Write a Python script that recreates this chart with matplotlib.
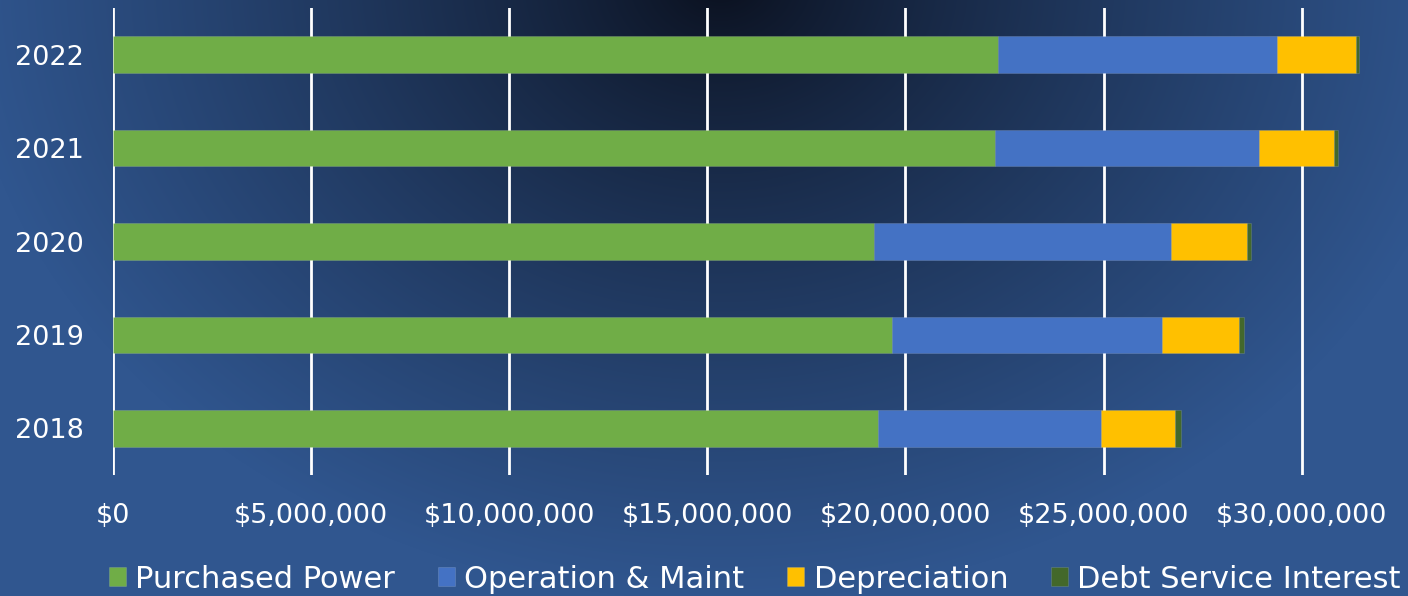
import numpy as np
import matplotlib.pyplot as plt
from matplotlib.colors import to_rgb
from matplotlib.ticker import FuncFormatter

years = ["2018", "2019", "2020", "2021", "2022"]
purchased_power = [19.31e6, 19.66e6, 19.20e6, 22.26e6, 22.33e6]
operation_maint = [5.62e6, 6.81e6, 7.51e6, 6.66e6, 7.06e6]
depreciation = [1.87e6, 1.94e6, 1.90e6, 1.90e6, 1.98e6]
debt_interest = [0.16e6, 0.14e6, 0.12e6, 0.09e6, 0.09e6]

series = [
    ("Purchased Power", purchased_power, "#70AD47"),
    ("Operation & Maint", operation_maint, "#4472C4"),
    ("Depreciation", depreciation, "#FFC000"),
    ("Debt Service Interest", debt_interest, "#43682B"),
]

plt.rcParams['font.family'] = ['DejaVu Sans']

fig = plt.figure(figsize=(14.08, 5.96), dpi=100)

# radial background gradient
bg = fig.add_axes([0, 0, 1, 1], zorder=-10)
h, w = 596, 1408
yy, xx = np.mgrid[0:h, 0:w]
r = np.sqrt(((xx - 720) / 760.0) ** 2 + ((yy + 20) / 620.0) ** 2)
t = np.clip(r, 0, 1) ** 0.8
c0 = np.array(to_rgb("#0a0f1c"))
c1 = np.array(to_rgb("#30568f"))
img = c0 + (c1 - c0) * t[..., None]
bg.imshow(img, aspect="auto", extent=[0, 1, 0, 1])
bg.axis("off")

ax = fig.add_axes([113 / 1408, 121 / 596, 1280 / 1408, 467 / 596])
ax.patch.set_alpha(0)

pos = np.arange(len(years))
left = np.zeros(len(years))
for name, vals, col in series:
    ax.barh(pos, vals, left=left, height=0.39, color=col, label=name, zorder=3,
            edgecolor=(1, 1, 1, 0.15), linewidth=0.6)
    left += np.array(vals)

ax.set_xlim(0, 1280 / 39.62 * 1e6)
ax.set_ylim(-0.5, 4.5)
ax.set_xticks(np.arange(0, 30.1e6, 5e6))
ax.xaxis.set_major_formatter(FuncFormatter(lambda v, p: "${:,.0f}".format(v)))
ax.set_yticks(pos)
ax.set_yticklabels(years)
ax.grid(axis="x", color="white", linewidth=2, zorder=1)
for s in ax.spines.values():
    s.set_visible(False)
ax.tick_params(axis="both", length=0, colors="white", labelsize=19.5)
ax.tick_params(axis="x", pad=20)
ax.tick_params(axis="y", pad=21)

leg = fig.legend(loc="center", bbox_to_anchor=(755 / 1408, 17 / 596), ncol=4, frameon=False,
                 fontsize=22, handlelength=0.56, handleheight=0.56, handletextpad=0.3,
                 columnspacing=1.4, borderpad=0)
for txt in leg.get_texts():
    txt.set_color("white")

fig.savefig("out.png", dpi=100)
